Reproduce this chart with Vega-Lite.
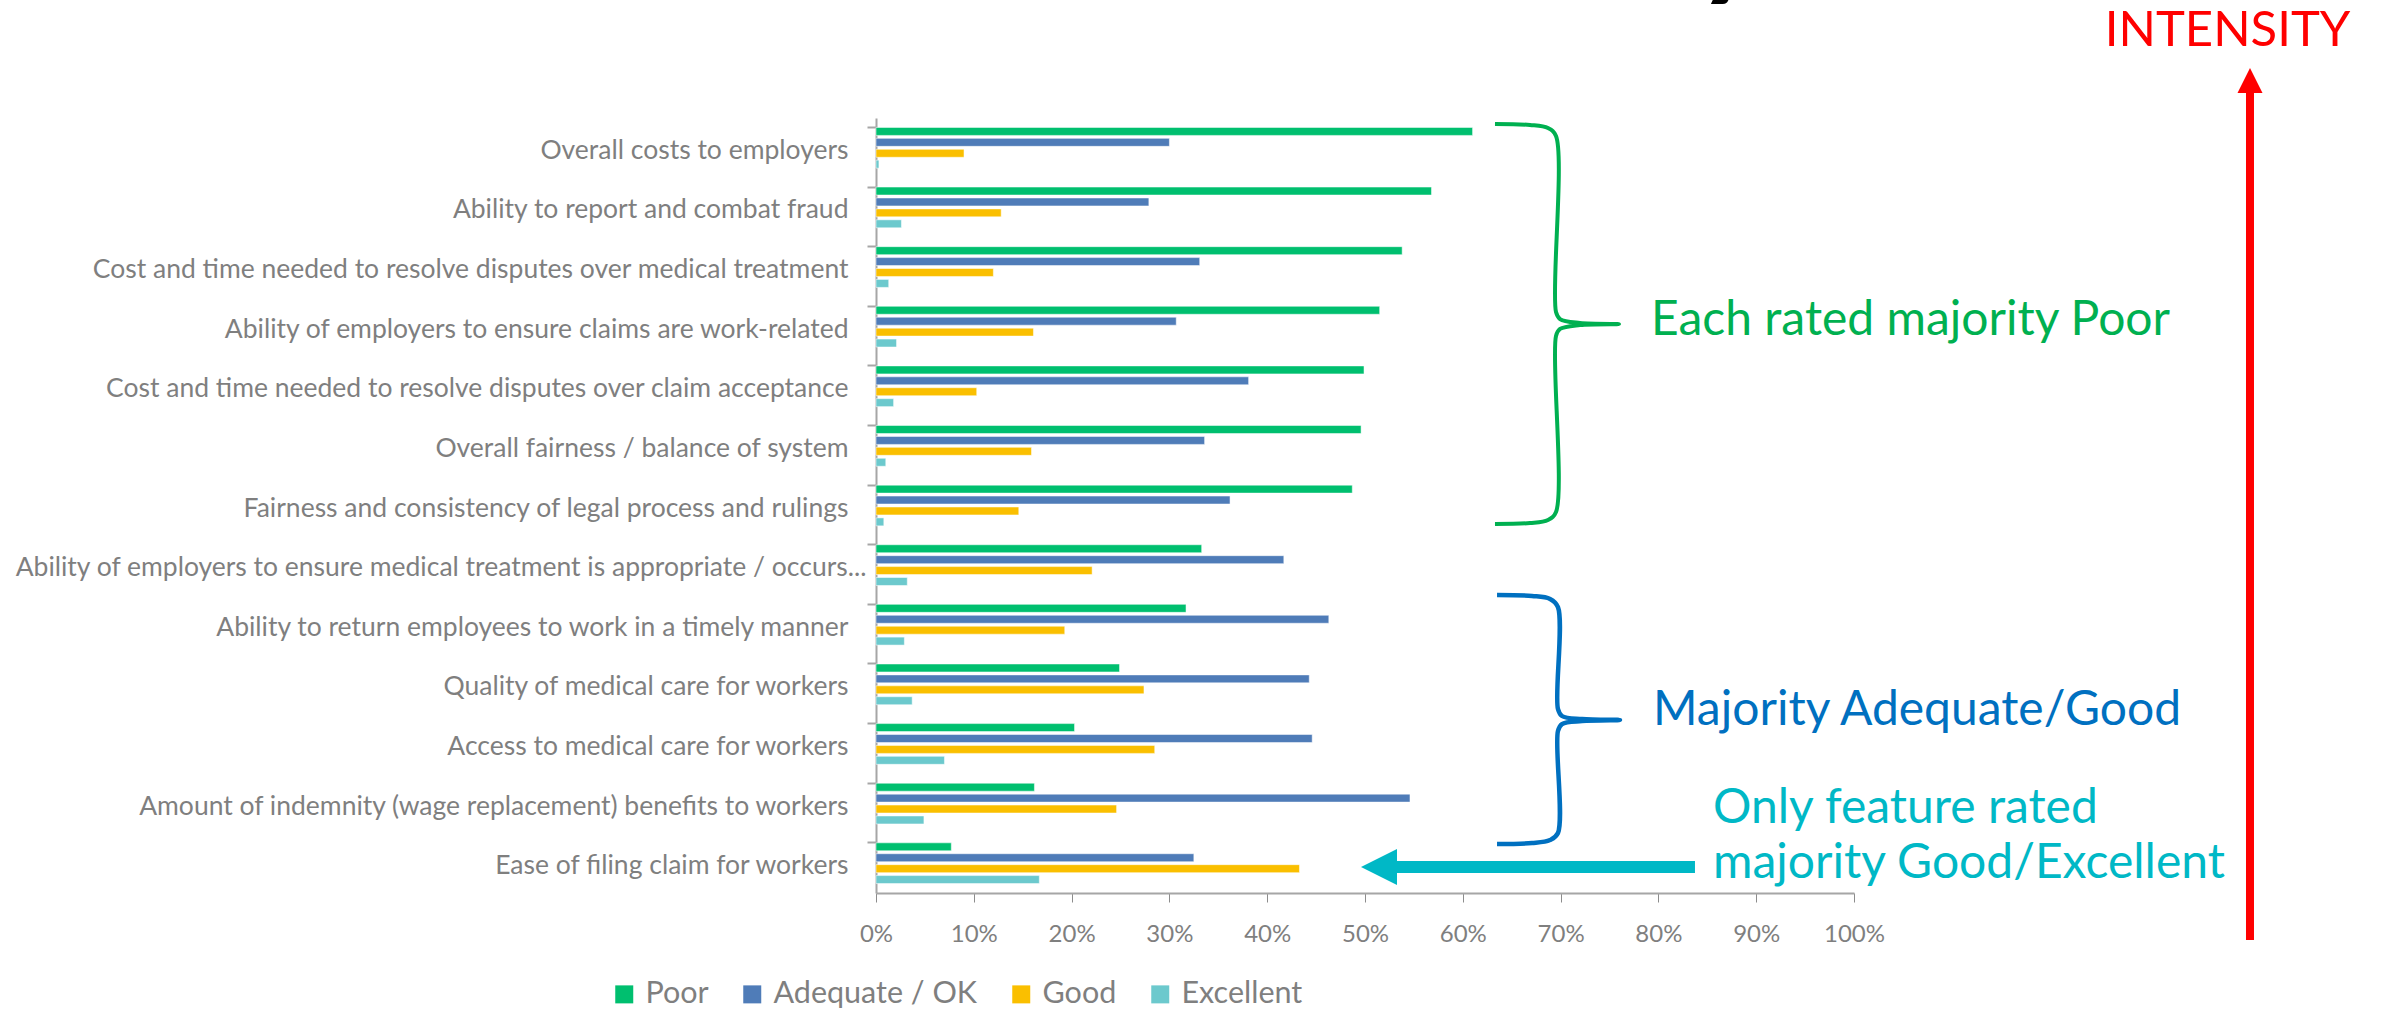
{
  "$schema": "https://vega.github.io/schema/vega-lite/v6.json",
  "width": 978,
  "height": 775,
  "autosize": {"type": "none"},
  "padding": {"left": 876, "top": 118, "right": 530, "bottom": 116},
  "background": "white",
  "config": {"view": {"stroke": null}, "font": "Lato"},
  "datasets": {
    "ratings": [
      {"item": "Overall costs to employers", "rating": "Poor", "value": 0.61},
      {"item": "Overall costs to employers", "rating": "Adequate / OK", "value": 0.30},
      {"item": "Overall costs to employers", "rating": "Good", "value": 0.09},
      {"item": "Overall costs to employers", "rating": "Excellent", "value": 0.003},
      {"item": "Ability to report and combat fraud", "rating": "Poor", "value": 0.568},
      {"item": "Ability to report and combat fraud", "rating": "Adequate / OK", "value": 0.279},
      {"item": "Ability to report and combat fraud", "rating": "Good", "value": 0.128},
      {"item": "Ability to report and combat fraud", "rating": "Excellent", "value": 0.026},
      {"item": "Cost and time needed to resolve disputes over medical treatment", "rating": "Poor", "value": 0.538},
      {"item": "Cost and time needed to resolve disputes over medical treatment", "rating": "Adequate / OK", "value": 0.331},
      {"item": "Cost and time needed to resolve disputes over medical treatment", "rating": "Good", "value": 0.12},
      {"item": "Cost and time needed to resolve disputes over medical treatment", "rating": "Excellent", "value": 0.013},
      {"item": "Ability of employers to ensure claims are work-related", "rating": "Poor", "value": 0.515},
      {"item": "Ability of employers to ensure claims are work-related", "rating": "Adequate / OK", "value": 0.307},
      {"item": "Ability of employers to ensure claims are work-related", "rating": "Good", "value": 0.161},
      {"item": "Ability of employers to ensure claims are work-related", "rating": "Excellent", "value": 0.021},
      {"item": "Cost and time needed to resolve disputes over claim acceptance", "rating": "Poor", "value": 0.499},
      {"item": "Cost and time needed to resolve disputes over claim acceptance", "rating": "Adequate / OK", "value": 0.381},
      {"item": "Cost and time needed to resolve disputes over claim acceptance", "rating": "Good", "value": 0.103},
      {"item": "Cost and time needed to resolve disputes over claim acceptance", "rating": "Excellent", "value": 0.018},
      {"item": "Overall fairness / balance of system", "rating": "Poor", "value": 0.496},
      {"item": "Overall fairness / balance of system", "rating": "Adequate / OK", "value": 0.336},
      {"item": "Overall fairness / balance of system", "rating": "Good", "value": 0.159},
      {"item": "Overall fairness / balance of system", "rating": "Excellent", "value": 0.01},
      {"item": "Fairness and consistency of legal process and rulings", "rating": "Poor", "value": 0.487},
      {"item": "Fairness and consistency of legal process and rulings", "rating": "Adequate / OK", "value": 0.362},
      {"item": "Fairness and consistency of legal process and rulings", "rating": "Good", "value": 0.146},
      {"item": "Fairness and consistency of legal process and rulings", "rating": "Excellent", "value": 0.008},
      {"item": "Ability of employers to ensure medical treatment is appropriate / occurs...", "rating": "Poor", "value": 0.333},
      {"item": "Ability of employers to ensure medical treatment is appropriate / occurs...", "rating": "Adequate / OK", "value": 0.417},
      {"item": "Ability of employers to ensure medical treatment is appropriate / occurs...", "rating": "Good", "value": 0.221},
      {"item": "Ability of employers to ensure medical treatment is appropriate / occurs...", "rating": "Excellent", "value": 0.032},
      {"item": "Ability to return employees to work in a timely manner", "rating": "Poor", "value": 0.317},
      {"item": "Ability to return employees to work in a timely manner", "rating": "Adequate / OK", "value": 0.463},
      {"item": "Ability to return employees to work in a timely manner", "rating": "Good", "value": 0.193},
      {"item": "Ability to return employees to work in a timely manner", "rating": "Excellent", "value": 0.029},
      {"item": "Quality of medical care for workers", "rating": "Poor", "value": 0.249},
      {"item": "Quality of medical care for workers", "rating": "Adequate / OK", "value": 0.443},
      {"item": "Quality of medical care for workers", "rating": "Good", "value": 0.274},
      {"item": "Quality of medical care for workers", "rating": "Excellent", "value": 0.037},
      {"item": "Access to medical care for workers", "rating": "Poor", "value": 0.203},
      {"item": "Access to medical care for workers", "rating": "Adequate / OK", "value": 0.446},
      {"item": "Access to medical care for workers", "rating": "Good", "value": 0.285},
      {"item": "Access to medical care for workers", "rating": "Excellent", "value": 0.07},
      {"item": "Amount of indemnity (wage replacement) benefits to workers", "rating": "Poor", "value": 0.162},
      {"item": "Amount of indemnity (wage replacement) benefits to workers", "rating": "Adequate / OK", "value": 0.546},
      {"item": "Amount of indemnity (wage replacement) benefits to workers", "rating": "Good", "value": 0.246},
      {"item": "Amount of indemnity (wage replacement) benefits to workers", "rating": "Excellent", "value": 0.049},
      {"item": "Ease of filing claim for workers", "rating": "Poor", "value": 0.077},
      {"item": "Ease of filing claim for workers", "rating": "Adequate / OK", "value": 0.325},
      {"item": "Ease of filing claim for workers", "rating": "Good", "value": 0.433},
      {"item": "Ease of filing claim for workers", "rating": "Excellent", "value": 0.167}
    ],
    "greenBrace": [
      {"i": 1, "x": 0.6329, "y": 12.899},
      {"i": 2, "x": 0.6687, "y": 12.883},
      {"i": 3, "x": 0.6871, "y": 12.832},
      {"i": 4, "x": 0.6953, "y": 12.698},
      {"i": 5, "x": 0.6953, "y": 9.746},
      {"i": 6, "x": 0.6994, "y": 9.628},
      {"i": 7, "x": 0.7198, "y": 9.561},
      {"i": 8, "x": 0.7597, "y": 9.544},
      {"i": 9, "x": 0.7198, "y": 9.528},
      {"i": 10, "x": 0.6994, "y": 9.461},
      {"i": 11, "x": 0.6953, "y": 9.343},
      {"i": 12, "x": 0.6953, "y": 6.391},
      {"i": 13, "x": 0.6871, "y": 6.257},
      {"i": 14, "x": 0.6687, "y": 6.206},
      {"i": 15, "x": 0.6329, "y": 6.190}
    ],
    "blueBrace": [
      {"i": 1, "x": 0.6350, "y": 4.999},
      {"i": 2, "x": 0.6708, "y": 4.982},
      {"i": 3, "x": 0.6892, "y": 4.932},
      {"i": 4, "x": 0.6973, "y": 4.797},
      {"i": 5, "x": 0.6973, "y": 3.086},
      {"i": 6, "x": 0.7014, "y": 2.969},
      {"i": 7, "x": 0.7219, "y": 2.918},
      {"i": 8, "x": 0.7607, "y": 2.902},
      {"i": 9, "x": 0.7219, "y": 2.885},
      {"i": 10, "x": 0.7014, "y": 2.834},
      {"i": 11, "x": 0.6973, "y": 2.717},
      {"i": 12, "x": 0.6973, "y": 1.006},
      {"i": 13, "x": 0.6892, "y": 0.889},
      {"i": 14, "x": 0.6708, "y": 0.839},
      {"i": 15, "x": 0.6350, "y": 0.822}
    ]
  },
  "layer": [
    {
      "data": {"name": "ratings"},
      "mark": {"type": "bar", "stroke": "#ffffff", "strokeWidth": 1, "strokeOpacity": 0.5},
      "encoding": {
        "y": {
          "field": "item", "type": "nominal",
          "sort": [
            "Overall costs to employers",
            "Ability to report and combat fraud",
            "Cost and time needed to resolve disputes over medical treatment",
            "Ability of employers to ensure claims are work-related",
            "Cost and time needed to resolve disputes over claim acceptance",
            "Overall fairness / balance of system",
            "Fairness and consistency of legal process and rulings",
            "Ability of employers to ensure medical treatment is appropriate / occurs...",
            "Ability to return employees to work in a timely manner",
            "Quality of medical care for workers",
            "Access to medical care for workers",
            "Amount of indemnity (wage replacement) benefits to workers",
            "Ease of filing claim for workers"
          ],
          "scale": {"paddingInner": 0.317, "paddingOuter": 0.1585},
          "axis": {
            "title": null, "labelFontSize": 26.5, "labelFont": "Lato", "labelColor": "#7F7F7F",
            "labelPadding": {"condition": {"test": "indexof(datum.value, 'occurs') >= 0", "value": 1}, "value": 19},
            "labelOffset": 3, "tickSize": 9, "tickColor": "#A6A6A6", "tickWidth": 2,
            "domainColor": "#A6A6A6", "domainWidth": 2, "bandPosition": 0,
            "labelLimit": 1000, "grid": false
          }
        },
        "yOffset": {
          "field": "rating", "type": "nominal",
          "sort": ["Poor", "Adequate / OK", "Good", "Excellent"],
          "scale": {"paddingInner": 0.27, "paddingOuter": 0}
        },
        "x": {
          "field": "value", "type": "quantitative",
          "scale": {"domain": [0, 1], "nice": false},
          "axis": {
            "title": null, "format": ".0%",
            "values": [0, 0.1, 0.2, 0.3, 0.4, 0.5, 0.6, 0.7, 0.8, 0.9, 1],
            "labelFontSize": 24, "labelFont": "Lato", "labelColor": "#7F7F7F",
            "tickSize": 9, "tickColor": "#8C8C8C", "tickWidth": 1,
            "labelPadding": 20, "domainColor": "#A6A6A6", "domainWidth": 2,
            "grid": false, "labelFlush": false
          }
        },
        "color": {
          "field": "rating", "type": "nominal",
          "scale": {
            "domain": ["Poor", "Adequate / OK", "Good", "Excellent"],
            "range": ["#00BF6F", "#4F7CB8", "#FABF00", "#6CC9CD"]
          },
          "legend": {
            "orient": "none", "legendX": -267, "legendY": 861, "direction": "horizontal",
            "columns": 4, "title": null, "symbolType": "square", "symbolSize": 324,
            "symbolStrokeWidth": 0, "labelFontSize": 30.5, "labelFont": "Lato", "labelLimit": 500,
            "labelColor": "#7F7F7F", "labelOffset": 6, "columnPadding": 28, "padding": 0
          }
        }
      }
    },
    {
      "layer": [
        {
          "data": {"name": "greenBrace"},
          "mark": {"type": "line", "color": "#00B050", "strokeWidth": 4, "interpolate": "catmull-rom"},
          "encoding": {
            "x": {"field": "x", "type": "quantitative", "scale": {"domain": [0, 1], "nice": false}, "axis": null},
            "y": {"field": "y", "type": "quantitative", "scale": {"domain": [0, 13], "nice": false, "zero": false}, "axis": null},
            "order": {"field": "i", "type": "quantitative"}
          }
        },
        {
          "data": {"name": "blueBrace"},
          "mark": {"type": "line", "color": "#0070C0", "strokeWidth": 4.5, "interpolate": "catmull-rom"},
          "encoding": {
            "x": {"field": "x", "type": "quantitative", "scale": {"domain": [0, 1], "nice": false}, "axis": null},
            "y": {"field": "y", "type": "quantitative", "scale": {"domain": [0, 13], "nice": false, "zero": false}, "axis": null},
            "order": {"field": "i", "type": "quantitative"}
          }
        },
        {
          "data": {"values": [{"label": "Each rated majority Poor", "x": 0.7924, "y": 9.36}]},
          "mark": {"type": "text", "color": "#00B050", "fontSize": 48, "font": "Lato", "align": "left", "baseline": "alphabetic"},
          "encoding": {
            "x": {"field": "x", "type": "quantitative", "scale": {"domain": [0, 1], "nice": false}, "axis": null},
            "y": {"field": "y", "type": "quantitative", "scale": {"domain": [0, 13], "nice": false, "zero": false}, "axis": null},
            "text": {"field": "label"}
          }
        },
        {
          "data": {"values": [{"label": "Majority Adequate/Good", "x": 0.7945, "y": 2.813}]},
          "mark": {"type": "text", "color": "#0070C0", "fontSize": 48, "font": "Lato", "align": "left", "baseline": "alphabetic"},
          "encoding": {
            "x": {"field": "x", "type": "quantitative", "scale": {"domain": [0, 1], "nice": false}, "axis": null},
            "y": {"field": "y", "type": "quantitative", "scale": {"domain": [0, 13], "nice": false, "zero": false}, "axis": null},
            "text": {"field": "label"}
          }
        },
        {
          "data": {"values": [
            {"label": "Only feature rated", "x": 0.8558, "y": 1.177},
            {"label": "majority Good/Excellent", "x": 0.8558, "y": 0.251}
          ]},
          "mark": {"type": "text", "color": "#00B8C6", "fontSize": 48, "font": "Lato", "align": "left", "baseline": "alphabetic"},
          "encoding": {
            "x": {"field": "x", "type": "quantitative", "scale": {"domain": [0, 1], "nice": false}, "axis": null},
            "y": {"field": "y", "type": "quantitative", "scale": {"domain": [0, 13], "nice": false, "zero": false}, "axis": null},
            "text": {"field": "label"}
          }
        },
        {
          "data": {"values": [{"label": "INTENSITY", "x": 1.382, "y": 14.208}]},
          "mark": {"type": "text", "color": "#FF0000", "fontSize": 49, "font": "Lato", "align": "center", "baseline": "alphabetic"},
          "encoding": {
            "x": {"field": "x", "type": "quantitative", "scale": {"domain": [0, 1], "nice": false}, "axis": null},
            "y": {"field": "y", "type": "quantitative", "scale": {"domain": [0, 13], "nice": false, "zero": false}, "axis": null},
            "text": {"field": "label"}
          }
        },
        {
          "data": {"values": [{"label": "y", "x": 0.8384, "y": 15.282}]},
          "mark": {"type": "text", "color": "#000000", "fontSize": 130, "fontWeight": "bold", "font": "Lato", "align": "left", "baseline": "alphabetic"},
          "encoding": {
            "x": {"field": "x", "type": "quantitative", "scale": {"domain": [0, 1], "nice": false}, "axis": null},
            "y": {"field": "y", "type": "quantitative", "scale": {"domain": [0, 13], "nice": false, "zero": false}, "axis": null},
            "text": {"field": "label"}
          }
        },
        {
          "data": {"values": [{"x": 0.5317, "x2": 0.8374, "y": 0.436}]},
          "mark": {"type": "rule", "color": "#00B8C6", "strokeWidth": 12},
          "encoding": {
            "x": {"field": "x", "type": "quantitative", "scale": {"domain": [0, 1], "nice": false}, "axis": null},
            "x2": {"field": "x2"},
            "y": {"field": "y", "type": "quantitative", "scale": {"domain": [0, 13], "nice": false, "zero": false}, "axis": null}
          }
        },
        {
          "data": {"values": [{"x": 0.5143, "y": 0.436}]},
          "mark": {"type": "point", "filled": true, "shape": "M-1,0L1,-1L1,1Z", "size": 1296, "color": "#00B8C6", "opacity": 1, "strokeWidth": 0},
          "encoding": {
            "x": {"field": "x", "type": "quantitative", "scale": {"domain": [0, 1], "nice": false}, "axis": null},
            "y": {"field": "y", "type": "quantitative", "scale": {"domain": [0, 13], "nice": false, "zero": false}, "axis": null}
          }
        },
        {
          "data": {"values": [{"x": 1.4049, "y": 13.554, "y2": -0.789}]},
          "mark": {"type": "rule", "color": "#FF0000", "strokeWidth": 8},
          "encoding": {
            "x": {"field": "x", "type": "quantitative", "scale": {"domain": [0, 1], "nice": false}, "axis": null},
            "y": {"field": "y", "type": "quantitative", "scale": {"domain": [0, 13], "nice": false, "zero": false}, "axis": null},
            "y2": {"field": "y2"}
          }
        },
        {
          "data": {"values": [{"x": 1.4049, "y": 13.629}]},
          "mark": {"type": "point", "filled": true, "shape": "M0,-1L1,1L-1,1Z", "size": 625, "color": "#FF0000", "opacity": 1, "strokeWidth": 0},
          "encoding": {
            "x": {"field": "x", "type": "quantitative", "scale": {"domain": [0, 1], "nice": false}, "axis": null},
            "y": {"field": "y", "type": "quantitative", "scale": {"domain": [0, 13], "nice": false, "zero": false}, "axis": null}
          }
        }
      ]
    }
  ],
  "resolve": {"scale": {"x": "independent", "y": "independent"}, "axis": {"x": "independent", "y": "independent"}}
}
